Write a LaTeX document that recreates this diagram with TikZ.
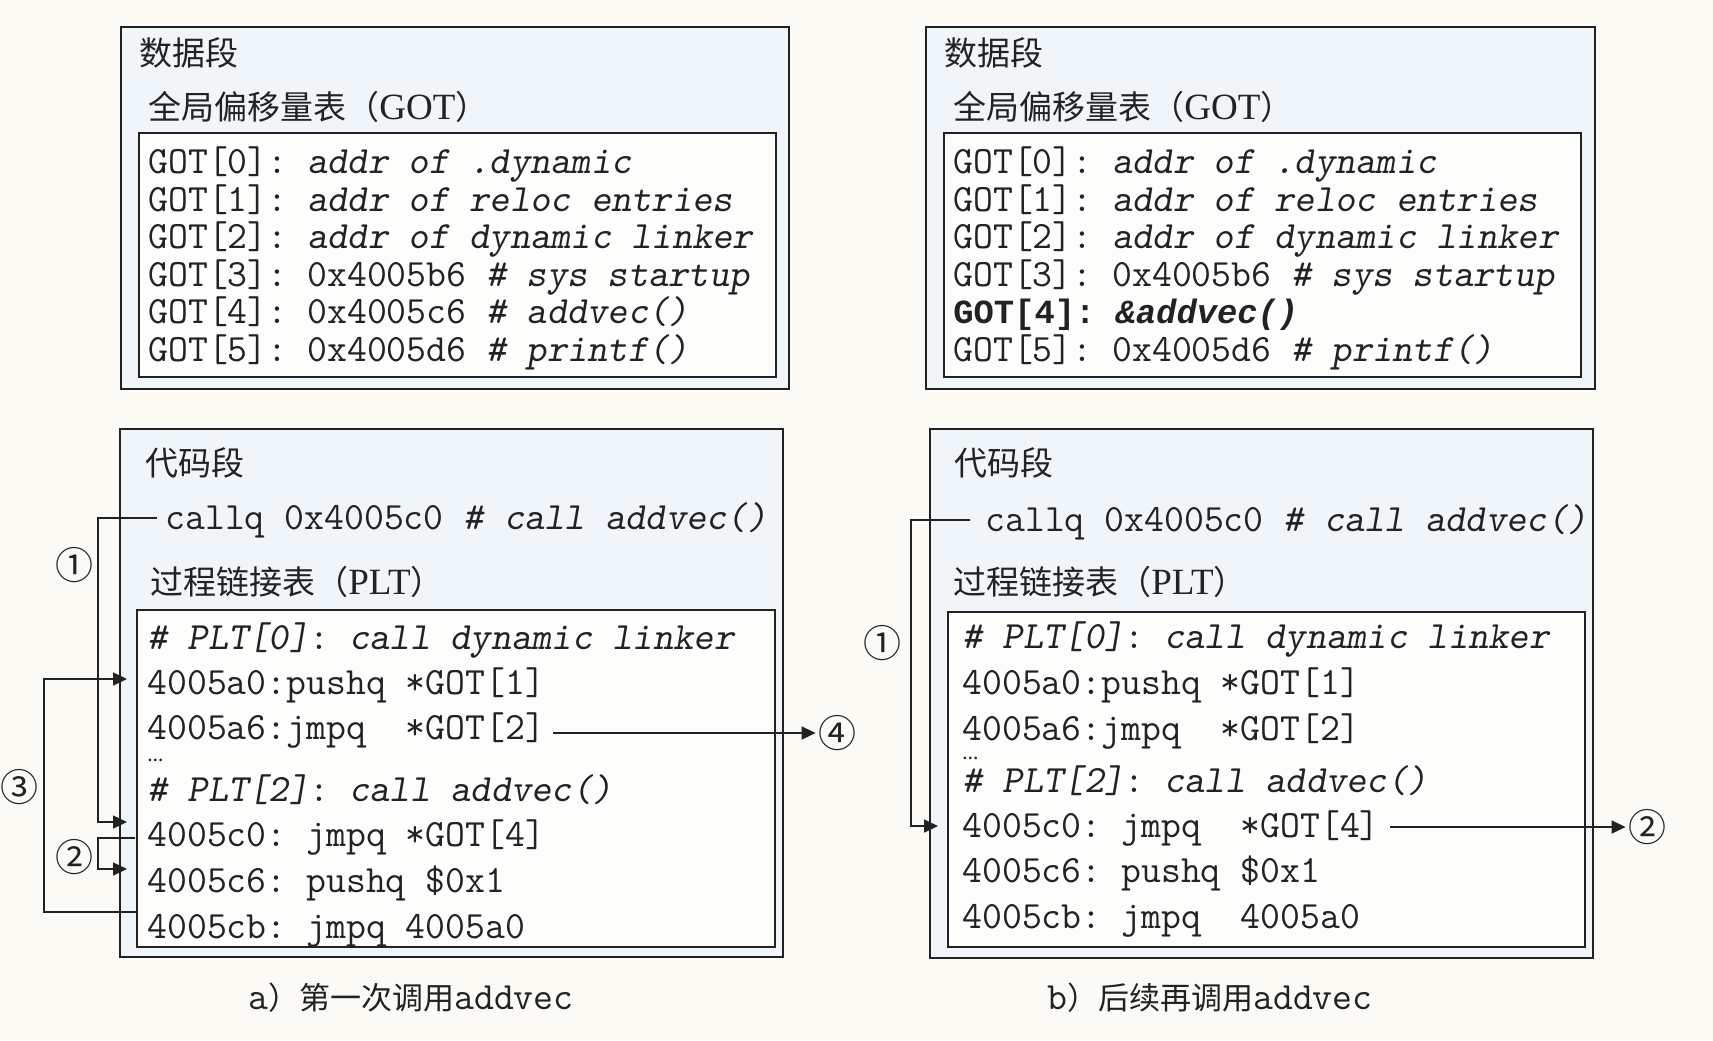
\documentclass[tikz,border=0pt]{standalone}
\usepackage{fontspec}
\setmainfont{Liberation Serif}
\newfontfamily\cjk{Noto Sans CJK SC}
\newfontfamily\boldcode{Liberation Mono}
\usetikzlibrary{arrows.meta, calc}
\definecolor{PAPER}{HTML}{FBFAF4}
\definecolor{SEGFILL}{HTML}{F0F5F9}
\definecolor{TABFILL}{HTML}{FDFDFB}
\definecolor{INK}{HTML}{222222}
\newcommand{\codetext}[1]{{\ttfamily\fontsize{19.3}{20}\selectfont #1}}
\newcommand{\latintext}[1]{{\rmfamily\fontsize{18.5}{19}\selectfont #1}}
\tikzset{
  segbox/.style={draw=INK, line width=1.1pt, fill=SEGFILL},
  tabbox/.style={draw=INK, line width=1pt, fill=TABFILL},
  title/.style={anchor=west, inner sep=0pt, text=INK, font=\cjk\fontsize{16.5}{18}\selectfont},
  code/.style={anchor=west, inner sep=0pt, text=INK, text height=11.4pt, text depth=0pt,
    font=\ttfamily\fontsize{19.3}{20}\selectfont\frenchspacing},
  dotrow/.style={anchor=west, inner sep=0pt, text=INK, font=\rmfamily\bfseries\fontsize{8}{8}\selectfont},
  circnum/.style={inner sep=1pt, text=INK, font=\cjk\fontsize{19}{19}\selectfont},
  caption/.style={anchor=west, inner sep=0pt, text=INK, font=\cjk\fontsize{15.5}{17}\selectfont},
  flow/.style={draw=INK, line width=0.8pt, -{Triangle[length=7pt, width=6.5pt]}},
}

\begin{document}
\begin{tikzpicture}[x=0.5pt, y=-0.5pt]
    \fill[PAPER] (0,0) rectangle (1713,1040);
    \useasboundingbox (0,0) rectangle (1713,1040);
    %
    % (a) data segment
    \draw[segbox] (121,27) rectangle (789,389);
    \draw[tabbox] (139,133) rectangle (776,377);
    \node[title] (dataA) at (139,53) {数据段};
    \node[title] (gotA) at (148,107) {全局偏移量表（\latintext{GOT}）};
    \node[code] (gotA0) at (148,162) {GOT[0]: \textsl{addr of .dynamic}};
    \node[code] (gotA1) at (148,200) {GOT[1]: \textsl{addr of reloc entries}};
    \node[code] (gotA2) at (148,237) {GOT[2]: \textsl{addr of dynamic linker}};
    \node[code] (gotA3) at (148,275) {GOT[3]: 0x4005b6 \textsl{\# sys startup}};
    \node[code] (gotA4) at (148,312) {GOT[4]: 0x4005c6 \textsl{\# addvec()}};
    \node[code] (gotA5) at (148,350) {GOT[5]: 0x4005d6 \textsl{\# printf()}};
    %
    % (b) data segment
    \draw[segbox] (926,27) rectangle (1595,389);
    \draw[tabbox] (944,133) rectangle (1581,377);
    \node[title] (dataB) at (944,53) {数据段};
    \node[title] (gotB) at (953,107) {全局偏移量表（\latintext{GOT}）};
    \node[code] (gotB0) at (953,162) {GOT[0]: \textsl{addr of .dynamic}};
    \node[code] (gotB1) at (953,200) {GOT[1]: \textsl{addr of reloc entries}};
    \node[code] (gotB2) at (953,237) {GOT[2]: \textsl{addr of dynamic linker}};
    \node[code] (gotB3) at (953,275) {GOT[3]: 0x4005b6 \textsl{\# sys startup}};
    \node[code] (gotB4) at (953,312) {\boldcode\fontsize{16.9}{18}\selectfont\bfseries GOT[4]: \textit{\&addvec()}};
    \node[code] (gotB5) at (953,350) {GOT[5]: 0x4005d6 \textsl{\# printf()}};
    %
    % (a) code segment
    \draw[segbox] (120,429) rectangle (783,957);
    \draw[tabbox] (137,610) rectangle (775,947);
    \node[title] (codeA) at (145,463) {代码段};
    \node[code] (callqA) at (165,518) {callq 0x4005c0 \textsl{\# call addvec()}};
    \node[title] (pltA) at (150,582) {过程链接表（\latintext{PLT}）};
    \node[code] (pltA0) at (147,638) {\textsl{\# PLT[0]}: \textsl{call dynamic linker}};
    \node[code] (a0A) at (147,683) {4005a0:pushq *GOT[1]};
    \node[code] (a6A) at (147,728) {4005a6:jmpq\ \ *GOT[2]};
    \node[dotrow] (dotsA) at (147,760) {…};
    \node[code] (pltA2) at (147,790) {\textsl{\# PLT[2]}: \textsl{call addvec()}};
    \node[code] (c0A) at (147,835) {4005c0: jmpq *GOT[4]};
    \node[code] (c6A) at (147,881) {4005c6: pushq \$0x1};
    \node[code] (cbA) at (147,927) {4005cb: jmpq 4005a0};
    %
    % (b) code segment
    \draw[segbox] (930,429) rectangle (1593,958);
    \draw[tabbox] (948,612) rectangle (1585,947);
    \node[title] (codeB) at (954,463) {代码段};
    \node[code] (callqB) at (985,520) {callq 0x4005c0 \textsl{\# call addvec()}};
    \node[title] (pltB) at (953,582) {过程链接表（\latintext{PLT}）};
    \node[code] (pltB0) at (962,637) {\textsl{\# PLT[0]}: \textsl{call dynamic linker}};
    \node[code] (a0B) at (962,683) {4005a0:pushq *GOT[1]};
    \node[code] (a6B) at (962,729) {4005a6:jmpq\ \ *GOT[2]};
    \node[dotrow] (dotsB) at (962,758) {…};
    \node[code] (pltB2) at (962,781) {\textsl{\# PLT[2]}: \textsl{call addvec()}};
    \node[code] (c0B) at (962,826) {4005c0: jmpq\ \ *GOT[4]};
    \node[code] (c6B) at (962,871) {4005c6: pushq \$0x1};
    \node[code] (cbB) at (962,917) {4005cb: jmpq\ \ 4005a0};
    %
    % step numbers
    \node[circnum] (numA1) at (74,565) {①};
    \node[circnum] (numA2) at (74,857) {②};
    \node[circnum] (numA3) at (20,787) {③};
    \node[circnum] (numA4) at (837,733) {④};
    \node[circnum] (numB1) at (882,643) {①};
    \node[circnum] (numB2) at (1647,827) {②};
    %
    % (a) first call
    \draw[flow] ([xshift=-4pt]callqA.west) -- ++(-59,0) |- ([xshift=-10pt,yshift=6.5pt]c0A.west);
    \draw[flow] ([xshift=-6pt,yshift=-1.5pt]c0A.west) -- ++(-37,0) |- ([xshift=-10pt,yshift=6pt]c6A.west);
    \draw[flow] ([xshift=-5pt,yshift=7.5pt]cbA.west) -- ++(-93,0) |- ([xshift=-10pt,yshift=2pt]a0A.west);
    \draw[flow, shorten <=4pt] (a6A.east |- numA4.west) -- (numA4.west);
    %
    % (b) later calls
    \draw[flow] ([xshift=-7.5pt]callqB.west) -- ++(-59,0) |- ([xshift=-12pt]c0B.west);
    \draw[flow, shorten <=5pt] (c0B.east |- numB2.west) -- (numB2.west);
    %
    \node[caption] (capA) at (248,998) {\codetext{a}）第一次调用\codetext{addvec}};
    \node[caption] (capB) at (1047,998) {\codetext{b}）后续再调用\codetext{addvec}};
\end{tikzpicture}
\end{document}
